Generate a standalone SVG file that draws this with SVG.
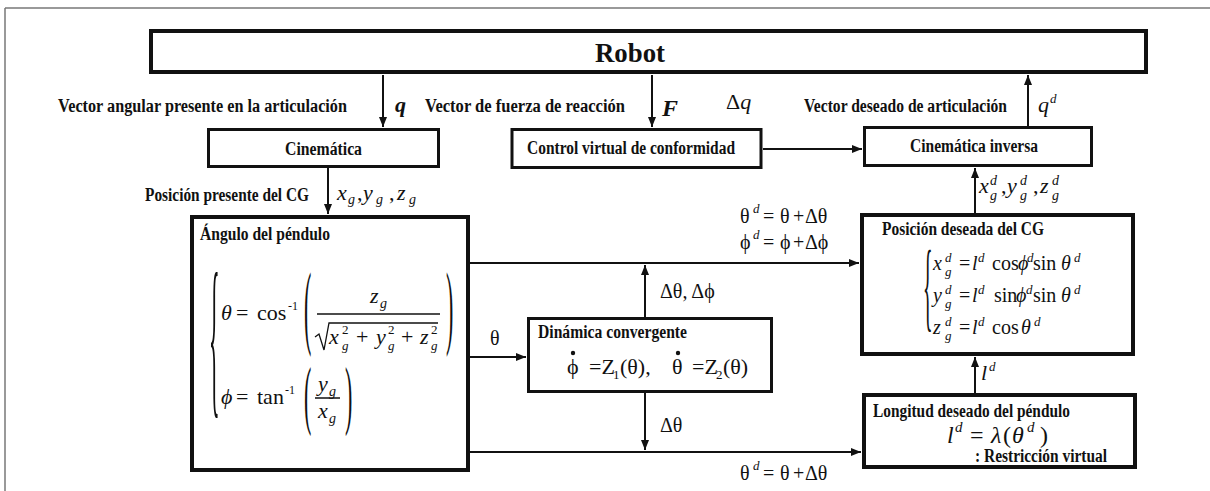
<svg xmlns="http://www.w3.org/2000/svg" width="1210" height="491" viewBox="0 0 1210 491">
<style>
.lb{font-family:"Liberation Serif",serif;font-weight:bold;font-size:18px;fill:#111}
.mi{font-family:"Liberation Serif",serif;font-style:italic;fill:#111}
.mn{font-family:"Liberation Serif",serif;font-style:normal;fill:#111}
.box{fill:#fff;stroke:#111}
.bk{stroke-width:4}
.bt{stroke-width:3}
.conn line{stroke:#111;stroke-width:2}
.sm{font-size:13px}
</style>
<defs>
<marker id="ah" markerWidth="10" markerHeight="8" refX="10" refY="4" orient="auto" markerUnits="userSpaceOnUse"><path d="M0,0 L10,4 L0,8 z" fill="#111"/></marker>
</defs>
<rect width="1210" height="491" fill="#fff"/>
<g id="frame"><line x1="5" y1="8" x2="1210" y2="8" stroke="#777" stroke-width="1.5"/><line x1="5" y1="8" x2="5" y2="491" stroke="#777" stroke-width="1.5"/></g>

<g id="connectors" class="conn">
<line x1="383" y1="75" x2="383" y2="127" marker-end="url(#ah)"/>
<line x1="652" y1="75" x2="652" y2="127" marker-end="url(#ah)"/>
<line x1="1028" y1="126" x2="1028" y2="75" marker-end="url(#ah)"/>
<line x1="763" y1="149" x2="862" y2="149" marker-end="url(#ah)"/>
<line x1="328" y1="168" x2="328" y2="214" marker-end="url(#ah)"/>
<line x1="975" y1="213" x2="975" y2="168" marker-end="url(#ah)"/>
<line x1="470" y1="263" x2="859" y2="263" marker-end="url(#ah)"/>
<line x1="470" y1="357" x2="526" y2="357" marker-end="url(#ah)"/>
<line x1="645" y1="317" x2="645" y2="265" marker-end="url(#ah)"/>
<line x1="645" y1="393" x2="645" y2="450" marker-end="url(#ah)"/>
<line x1="470" y1="452" x2="861" y2="452" marker-end="url(#ah)"/>
<line x1="975" y1="393" x2="975" y2="357" marker-end="url(#ah)"/>
</g>

<g id="edge-labels">
<text class="lb" x="58" y="112" textLength="289" lengthAdjust="spacingAndGlyphs">Vector angular presente en la articulación</text>
<text class="mi" x="395" y="112" font-size="22" font-weight="bold">q</text>
<text class="lb" x="425" y="112" textLength="200" lengthAdjust="spacingAndGlyphs">Vector de fuerza de reacción</text>
<text class="mi" x="662" y="116" font-size="24" font-weight="bold">F</text>
<text class="mn" x="726" y="109" font-size="22">Δ<tspan class="mi">q</tspan></text>
<text class="lb" x="804" y="112" textLength="203" lengthAdjust="spacingAndGlyphs">Vector deseado de articulación</text>
<text class="mi" font-size="22"><tspan x="1038" y="112">q</tspan><tspan x="1050" y="103" class="sm">d</tspan></text>
<text class="lb" x="145" y="201" textLength="164" lengthAdjust="spacingAndGlyphs">Posición presente del CG</text>
<text class="mi" font-size="22"><tspan x="337" y="200">x</tspan><tspan x="348" y="204" font-size="14">g</tspan><tspan x="357" y="200" class="mn">,</tspan><tspan x="363" y="200">y</tspan><tspan x="376" y="204" font-size="14">g</tspan><tspan x="389" y="200" class="mn">,</tspan><tspan x="397" y="200">z</tspan><tspan x="409" y="204" font-size="14">g</tspan></text>
<text class="mi" font-size="22"><tspan x="979" y="193">x</tspan><tspan x="990" y="200" font-size="14">g</tspan><tspan x="990" y="185" font-size="14">d</tspan><tspan x="1001" y="193" class="mn">,</tspan><tspan x="1007" y="193">y</tspan><tspan x="1020" y="200" font-size="14">g</tspan><tspan x="1020" y="185" font-size="14">d</tspan><tspan x="1033" y="193" class="mn">,</tspan><tspan x="1040" y="193">z</tspan><tspan x="1052" y="200" font-size="14">g</tspan><tspan x="1052" y="185" font-size="14">d</tspan></text>
<text class="mn" font-size="20"><tspan x="740" y="223">θ</tspan><tspan x="753" y="213" class="mi sm">d</tspan><tspan x="763" y="223">=</tspan><tspan x="780" y="223">θ</tspan><tspan x="793" y="223">+</tspan><tspan x="805" y="223">Δθ</tspan></text>
<text class="mn" font-size="20"><tspan x="740" y="249">ϕ</tspan><tspan x="753" y="239" class="mi sm">d</tspan><tspan x="763" y="249">=</tspan><tspan x="780" y="249">ϕ</tspan><tspan x="793" y="249">+</tspan><tspan x="805" y="249">Δϕ</tspan></text>
<text class="mn" font-size="20" x="660" y="298">Δθ, Δϕ</text>
<text class="mn" font-size="20" x="490" y="345">θ</text>
<text class="mn" font-size="20" x="660" y="432">Δθ</text>
<text class="mn" font-size="20"><tspan x="740" y="480">θ</tspan><tspan x="753" y="470" class="mi sm">d</tspan><tspan x="763" y="480">=</tspan><tspan x="780" y="480">θ</tspan><tspan x="793" y="480">+</tspan><tspan x="805" y="480">Δθ</tspan></text>
<text class="mi" font-size="22"><tspan x="981" y="380">l</tspan><tspan x="989" y="371" class="sm">d</tspan></text>
</g>

<g id="robot">
<rect class="box bk" x="151" y="31" width="995" height="41"/>
<text class="lb" x="595" y="62" style="font-size:27px" textLength="70" lengthAdjust="spacingAndGlyphs">Robot</text>
</g>

<g id="cinematica">
<rect class="box bt" x="208.5" y="129.5" width="230" height="37"/>
<text class="lb" x="285" y="155" textLength="77" lengthAdjust="spacingAndGlyphs">Cinemática</text>
</g>

<g id="control">
<rect class="box bt" x="512" y="129.5" width="249" height="38"/>
<text class="lb" x="527" y="154" textLength="208" lengthAdjust="spacingAndGlyphs">Control virtual de conformidad</text>
</g>

<g id="cinematica-inversa">
<rect class="box bt" x="864.5" y="127.5" width="227" height="38"/>
<text class="lb" x="910" y="152" textLength="128" lengthAdjust="spacingAndGlyphs">Cinemática inversa</text>
</g>

<g id="angulo">
<rect class="box bk" x="192" y="217" width="276" height="253"/>
<text class="lb" x="200" y="240" textLength="130" lengthAdjust="spacingAndGlyphs">Ángulo del péndulo</text>
<text class="mn" font-size="22" transform="translate(209,352) scale(1,8)" y="5.2">{</text>
<text class="mn" font-size="22"><tspan x="221" y="320" class="mi">θ</tspan><tspan x="236" y="320">=</tspan><tspan x="257" y="320">cos</tspan><tspan x="288" y="310" font-size="12">-1</tspan></text>
<text class="mn" font-size="22" transform="translate(304,315) scale(1,4.2)" y="5.2">(</text>
<text class="mi" font-size="22"><tspan x="370" y="303">z</tspan><tspan x="380" y="308" font-size="14">g</tspan></text>
<line x1="317" y1="314" x2="440" y2="314" stroke="#111" stroke-width="1.5"/>
<path d="M315,337 L319,334 L324,350 L329,323 L438,323" fill="none" stroke="#111" stroke-width="1.3"/>
<text class="mi" font-size="22"><tspan x="329" y="344">x</tspan><tspan x="342" y="350" font-size="13">g</tspan><tspan x="342" y="334" font-size="13" class="mn">2</tspan><tspan x="356" y="344" class="mn">+</tspan><tspan x="376" y="344">y</tspan><tspan x="388" y="350" font-size="13">g</tspan><tspan x="388" y="334" font-size="13" class="mn">2</tspan><tspan x="401" y="344" class="mn">+</tspan><tspan x="420" y="344">z</tspan><tspan x="431" y="350" font-size="13">g</tspan><tspan x="431" y="334" font-size="13" class="mn">2</tspan></text>
<text class="mn" font-size="22" transform="translate(446,315) scale(1,4.2)" y="5.2">)</text>
<text class="mn" font-size="22"><tspan x="221" y="404" class="mi">ϕ</tspan><tspan x="236" y="404">=</tspan><tspan x="257" y="404">tan</tspan><tspan x="285" y="394" font-size="12">-1</tspan></text>
<text class="mn" font-size="22" transform="translate(304,402) scale(1,3.5)" y="5.2">(</text>
<text class="mi" font-size="22"><tspan x="318" y="391">y</tspan><tspan x="329" y="396" font-size="14">g</tspan></text>
<line x1="315" y1="398" x2="340" y2="398" stroke="#111" stroke-width="1.5"/>
<text class="mi" font-size="22"><tspan x="318" y="418">x</tspan><tspan x="329" y="423" font-size="14">g</tspan></text>
<text class="mn" font-size="22" transform="translate(345,402) scale(1,3.5)" y="5.2">)</text>
</g>

<g id="dinamica">
<rect class="box bt" x="528.5" y="318.5" width="243" height="73"/>
<text class="lb" x="538" y="338" textLength="149" lengthAdjust="spacingAndGlyphs">Dinámica convergente</text>
<circle cx="573" cy="353" r="2.2" fill="#111"/>
<circle cx="678" cy="353" r="2.2" fill="#111"/>
<text class="mn" font-size="22"><tspan x="567" y="374">ϕ</tspan><tspan x="589" y="374">=Z</tspan><tspan x="613" y="379" font-size="13">1</tspan><tspan x="620" y="374">(θ),</tspan><tspan x="672" y="374">θ</tspan><tspan x="692" y="374">=Z</tspan><tspan x="716" y="379" font-size="13">2</tspan><tspan x="723" y="374">(θ)</tspan></text>
</g>

<g id="posicion-deseada">
<rect class="box bk" x="862" y="215" width="271" height="139"/>
<text class="lb" x="882" y="235" textLength="162" lengthAdjust="spacingAndGlyphs">Posición deseada del CG</text>
<text class="mn" font-size="20" transform="translate(923,295) scale(1,5)" y="4.7">{</text>
<text class="mi" font-size="20"><tspan x="933" y="270">x</tspan><tspan x="945" y="276" class="sm">g</tspan><tspan x="945" y="262" class="sm">d</tspan><tspan x="959" y="270" class="mn">=</tspan><tspan x="972" y="270">l</tspan><tspan x="978" y="262" class="sm">d</tspan><tspan x="992" y="270" class="mn">cos</tspan><tspan x="1018" y="270">ϕ</tspan><tspan x="1027" y="262" class="sm">d</tspan><tspan x="1033" y="270" class="mn">sin</tspan><tspan x="1061" y="270">θ</tspan><tspan x="1074" y="262" class="sm">d</tspan></text>
<text class="mi" font-size="20"><tspan x="933" y="302">y</tspan><tspan x="945" y="308" class="sm">g</tspan><tspan x="945" y="294" class="sm">d</tspan><tspan x="959" y="302" class="mn">=</tspan><tspan x="972" y="302">l</tspan><tspan x="978" y="294" class="sm">d</tspan><tspan x="994" y="302" class="mn">sin</tspan><tspan x="1016" y="302">ϕ</tspan><tspan x="1026" y="294" class="sm">d</tspan><tspan x="1033" y="302" class="mn">sin</tspan><tspan x="1061" y="302">θ</tspan><tspan x="1074" y="294" class="sm">d</tspan></text>
<text class="mi" font-size="20"><tspan x="933" y="334">z</tspan><tspan x="945" y="340" class="sm">g</tspan><tspan x="945" y="326" class="sm">d</tspan><tspan x="959" y="334" class="mn">=</tspan><tspan x="972" y="334">l</tspan><tspan x="978" y="326" class="sm">d</tspan><tspan x="992" y="334" class="mn">cos</tspan><tspan x="1021" y="334">θ</tspan><tspan x="1034" y="326" class="sm">d</tspan></text>
</g>

<g id="longitud">
<rect class="box bk" x="864" y="395" width="271" height="72"/>
<text class="lb" x="873" y="417" textLength="197" lengthAdjust="spacingAndGlyphs">Longitud deseado del péndulo</text>
<text class="mi" font-size="24"><tspan x="947" y="443">l</tspan><tspan x="955" y="432" font-size="15">d</tspan><tspan x="970" y="443" class="mn">=</tspan><tspan x="991" y="443">λ</tspan><tspan x="1003" y="443" class="mn">(</tspan><tspan x="1012" y="443">θ</tspan><tspan x="1027" y="432" font-size="15">d</tspan><tspan x="1040" y="443" class="mn">)</tspan></text>
<text class="lb" x="975" y="462" textLength="132" lengthAdjust="spacingAndGlyphs">: Restricción virtual</text>
</g>
</svg>
